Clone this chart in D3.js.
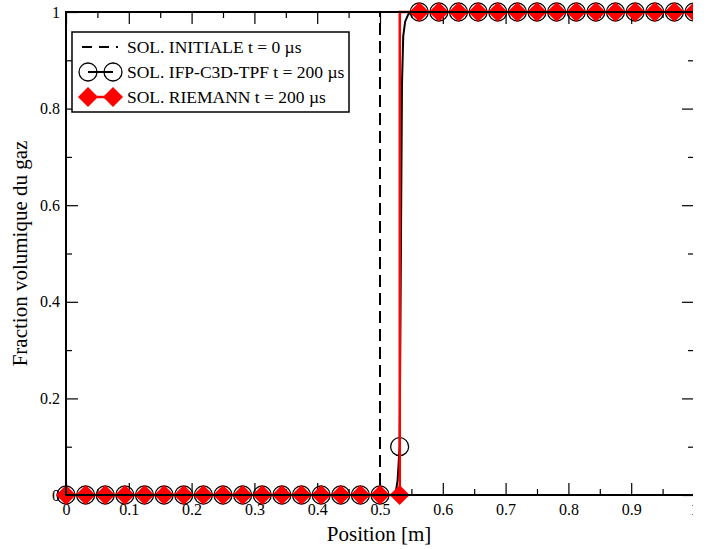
<!DOCTYPE html>
<html>
<head>
<meta charset="utf-8">
<script src="https://cdn.jsdelivr.net/npm/d3@7"></script>
<style>
  html, body { margin: 0; padding: 0; background: #fff; }
  svg { display: block; overflow: hidden; }
  svg text { font-family: "Liberation Serif", "DejaVu Serif", serif; fill: #000; }
</style>
</head>
<body>
<script>
// ---------------- data ----------------
const xMajorTicks = [0, 0.1, 0.2, 0.3, 0.4, 0.5, 0.6, 0.7, 0.8, 0.9, 1];
const xTickLabels = ["0", "0.1", "0.2", "0.3", "0.4", "0.5", "0.6", "0.7", "0.8", "0.9", "1"];
const xMinorTicks = [0.05, 0.15, 0.25, 0.35, 0.45, 0.55, 0.65, 0.75, 0.85, 0.95];
const yMajorTicks = [0, 0.2, 0.4, 0.6, 0.8, 1];
const yTickLabels = ["0", "0.2", "0.4", "0.6", "0.8", "1"];
const yMinorTicks = [0.1, 0.3, 0.5, 0.7, 0.9];

const xLabel = "Position [m]";
const yLabel = "Fraction volumique du gaz";

const legendLabels = [
  "SOL. INITIALE t = 0 µs",
  "SOL. IFP-C3D-TPF t = 200 µs",
  "SOL. RIEMANN t = 200 µs"
];

// initial solution (dashed)
const initialX = [0, 0.5, 0.5, 1];
const initialY = [0, 0, 1, 1];

// IFP-C3D-TPF solution, fine line
const ifpLineX = [0, 0.52, 0.525, 0.528, 0.53125, 0.533, 0.535, 0.537, 0.54, 0.545, 0.55, 1];
const ifpLineY = [0, 0, 0.005, 0.03, 0.1, 0.45, 0.85, 0.95, 0.98, 0.995, 1, 1];

// marker positions (mesh points)
const markerX = [0, 0.03125, 0.0625, 0.09375, 0.125, 0.15625, 0.1875, 0.21875, 0.25,
  0.28125, 0.3125, 0.34375, 0.375, 0.40625, 0.4375, 0.46875, 0.5, 0.53125, 0.5625,
  0.59375, 0.625, 0.65625, 0.6875, 0.71875, 0.75, 0.78125, 0.8125, 0.84375, 0.875,
  0.90625, 0.9375, 0.96875, 1];
const ifpMarkerY = [0, 0, 0, 0, 0, 0, 0, 0, 0, 0, 0, 0, 0, 0, 0, 0, 0, 0.1, 1,
  1, 1, 1, 1, 1, 1, 1, 1, 1, 1, 1, 1, 1, 1];
const riemannMarkerY = [0, 0, 0, 0, 0, 0, 0, 0, 0, 0, 0, 0, 0, 0, 0, 0, 0, 0, 1,
  1, 1, 1, 1, 1, 1, 1, 1, 1, 1, 1, 1, 1, 1];

// Riemann exact solution line
const riemannLineX = [0, 0.5315, 0.5315, 1];
const riemannLineY = [0, 0, 1, 1];

// ---------------- layout ----------------
const W = 693, H = 549;
const pL = 66, pR = 694, pT = 12, pB = 495;
const SERIF = "'Liberation Serif', 'DejaVu Serif', serif";

const svg = d3.select("body").append("svg")
  .attr("width", W).attr("height", H);

const x = d3.scaleLinear().domain([0, 1]).range([pL, pR]);
const y = d3.scaleLinear().domain([0, 1]).range([pB, pT]);

function styleAxis(g) {
  g.attr("font-family", SERIF).attr("font-size", 16);
  g.select(".domain").remove();
  g.selectAll(".tick line").attr("stroke", "#000").attr("stroke-width", 1.2);
  g.selectAll(".tick text").attr("font-family", SERIF).style("font-size", "16px");
}

// bottom axis
svg.append("g").attr("transform", `translate(0,${pB})`)
  .call(d3.axisBottom(x).tickValues(xMajorTicks).tickSize(-12).tickPadding(9)
    .tickFormat((d, i) => xTickLabels[i]))
  .call(styleAxis);
svg.append("g").attr("transform", `translate(0,${pB})`)
  .call(d3.axisBottom(x).tickValues(xMinorTicks).tickSize(-6).tickFormat(""))
  .call(styleAxis);
// top axis
svg.append("g").attr("transform", `translate(0,${pT})`)
  .call(d3.axisTop(x).tickValues(xMajorTicks).tickSize(-12).tickFormat(""))
  .call(styleAxis);
svg.append("g").attr("transform", `translate(0,${pT})`)
  .call(d3.axisTop(x).tickValues(xMinorTicks).tickSize(-6).tickFormat(""))
  .call(styleAxis);
// left axis
svg.append("g").attr("transform", `translate(${pL},0)`)
  .call(d3.axisLeft(y).tickValues(yMajorTicks).tickSize(-12).tickPadding(6)
    .tickFormat((d, i) => yTickLabels[i]))
  .call(styleAxis);
svg.append("g").attr("transform", `translate(${pL},0)`)
  .call(d3.axisLeft(y).tickValues(yMinorTicks).tickSize(-6).tickFormat(""))
  .call(styleAxis);
// right axis
svg.append("g").attr("transform", `translate(${pR},0)`)
  .call(d3.axisRight(y).tickValues(yMajorTicks).tickSize(-12).tickFormat(""))
  .call(styleAxis);
svg.append("g").attr("transform", `translate(${pR},0)`)
  .call(d3.axisRight(y).tickValues(yMinorTicks).tickSize(-6).tickFormat(""))
  .call(styleAxis);

// axis titles
svg.append("text").attr("x", (pL + pR) / 2 - 1).attr("y", 541)
  .attr("text-anchor", "middle").attr("font-family", SERIF)
  .style("font-size", "21px").text(xLabel);
svg.append("text")
  .attr("transform", `translate(27,${(pT + pB) / 2}) rotate(-90)`)
  .attr("text-anchor", "middle").attr("font-family", SERIF)
  .style("font-size", "21px").text(yLabel);

// ---------------- series ----------------
const line = d3.line().x(d => x(d[0])).y(d => y(d[1]));

svg.append("path")
  .datum(initialX.map((v, i) => [v, initialY[i]]))
  .attr("d", line).attr("fill", "none").attr("stroke", "#000")
  .attr("stroke-width", 2).attr("stroke-dasharray", "12,6");

svg.append("path")
  .datum(ifpLineX.map((v, i) => [v, ifpLineY[i]]))
  .attr("d", line).attr("fill", "none").attr("stroke", "#000")
  .attr("stroke-width", 2);

svg.append("g").selectAll("circle")
  .data(markerX.map((v, i) => [v, ifpMarkerY[i]]))
  .join("circle")
  .attr("cx", d => x(d[0])).attr("cy", d => y(d[1])).attr("r", 9)
  .attr("fill", "none").attr("stroke", "#000").attr("stroke-width", 1.3);

svg.append("path")
  .datum(riemannLineX.map((v, i) => [v, riemannLineY[i]]))
  .attr("d", line).attr("fill", "none").attr("stroke", "#ff0000")
  .attr("stroke-width", 2.5);

const diamond = s => `M0,${-s}L${s},0L0,${s}L${-s},0Z`;
svg.append("g").selectAll("path")
  .data(markerX.map((v, i) => [v, riemannMarkerY[i]]))
  .join("path")
  .attr("transform", d => `translate(${x(d[0])},${y(d[1])})`)
  .attr("d", diamond(10)).attr("fill", "#ff0000");

// frame
svg.append("rect").attr("x", pL).attr("y", pT)
  .attr("width", pR - pL).attr("height", pB - pT)
  .attr("fill", "none").attr("stroke", "#000").attr("stroke-width", 2);

// ---------------- legend ----------------
const lg = svg.append("g").attr("font-family", SERIF);
lg.append("rect").attr("x", 72).attr("y", 32).attr("width", 277).attr("height", 80)
  .attr("fill", "#fff").attr("stroke", "#000").attr("stroke-width", 1.5);
const rowY = [47, 72, 97];
const sx0 = 88, sx1 = 113;
// row 1: dashed
lg.append("line").attr("x1", 82).attr("x2", 118).attr("y1", rowY[0]).attr("y2", rowY[0])
  .attr("stroke", "#000").attr("stroke-width", 2).attr("stroke-dasharray", "10,7");
// row 2: circles
lg.append("line").attr("x1", sx0).attr("x2", sx1).attr("y1", rowY[1]).attr("y2", rowY[1])
  .attr("stroke", "#000").attr("stroke-width", 2);
[sx0, sx1].forEach(cx => lg.append("circle").attr("cx", cx).attr("cy", rowY[1]).attr("r", 9)
  .attr("fill", "none").attr("stroke", "#000").attr("stroke-width", 1.3));
// row 3: diamonds
lg.append("line").attr("x1", sx0).attr("x2", sx1).attr("y1", rowY[2]).attr("y2", rowY[2])
  .attr("stroke", "#ff0000").attr("stroke-width", 2.5);
[sx0, sx1].forEach(cx => lg.append("path").attr("transform", `translate(${cx},${rowY[2]})`)
  .attr("d", diamond(10)).attr("fill", "#ff0000"));
legendLabels.forEach((t, i) => {
  lg.append("text").attr("x", 127).attr("y", rowY[i] + 6)
    .attr("font-family", SERIF).style("font-size", "17.5px").text(t);
});
</script>
</body>
</html>
